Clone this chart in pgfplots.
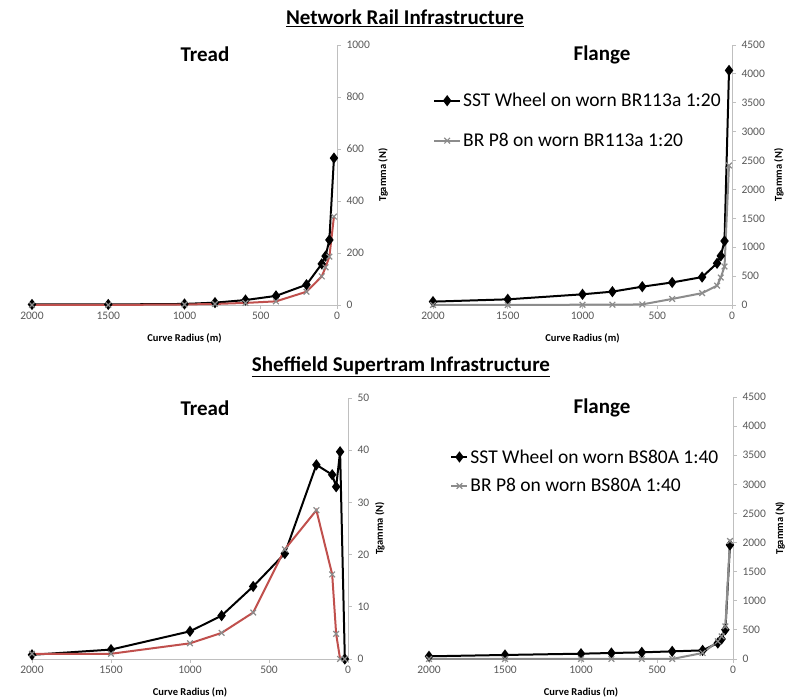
\documentclass[border=0pt]{standalone}
\usepackage{pgfplots}
\pgfplotsset{compat=1.18}
\usepackage{fontspec}
\setmainfont{Carlito}
\definecolor{axgray}{HTML}{BFBFBF}
\definecolor{tickgray}{HTML}{595959}
\definecolor{redl}{HTML}{C0504D}
\definecolor{grayl}{HTML}{8C8C8C}
\pgfplotsset{
 panel/.style={
  scale only axis, x dir=reverse, xmin=0, xmax=2000, ymin=0,
  axis x line=bottom, axis y line=right, axis line style={axgray, line width=0.8pt, -},
  hide obscured x ticks=false, hide obscured y ticks=false,
  xtick={0,500,1000,1500,2000}, tick align=outside, major tick length=4pt,
  tick style={axgray, line width=0.8pt},
  every tick label/.append style={font=\fontsize{11.5}{12}\selectfont, text=tickgray},
  yticklabel style={anchor=west, xshift=2pt},
  /pgf/number format/assume math mode=true,
  /pgf/number format/set thousands separator={},
  xlabel={Curve Radius (m)}, ylabel={Tgamma (N)},
  every axis x label/.style={at={(axis description cs:0.5,0)}, yshift=-33pt, anchor=center, font=\bfseries\fontsize{10.5}{12}\selectfont},
  clip=false,
  legend image code/.code={\draw[mark repeat=2,mark phase=2] plot coordinates {(0pt,0pt) (13pt,0pt) (26pt,0pt)};},
 },
 ylab/.style={every axis y label/.style={at={(axis description cs:#1,0.5)}, rotate=90, anchor=center, font=\bfseries\fontsize{10.5}{12}\selectfont}},
 blk/.style={black, line width=2pt, mark=diamond*, mark size=4pt, mark options={solid, fill=black}},
 sec/.style={line width=2pt, mark=x, mark size=4pt, mark options={grayl, line width=1.2pt}},
}
\begin{document}
\begin{tikzpicture}[x=1pt,y=1pt]
\useasboundingbox (0,0) rectangle (796,700);
\node[font=\bfseries\fontsize{21}{23}\selectfont] at (405,682) {\underline{Network Rail Infrastructure}};
\node[font=\bfseries\fontsize{21}{23}\selectfont] at (401,333) {\underline{Sheffield Supertram Infrastructure}};
\node[font=\bfseries\fontsize{21}{23}\selectfont] at (205,646) {Tread};
\node[font=\bfseries\fontsize{21}{23}\selectfont] at (602,645) {Flange};
\node[font=\bfseries\fontsize{21}{23}\selectfont] at (205,292) {Tread};
\node[font=\bfseries\fontsize{21}{23}\selectfont] at (602,292) {Flange};

% top-left
\begin{axis}[panel, at={(32pt,395pt)}, anchor=south west, width=305pt, height=260pt,
  ymax=1000, ytick={0,200,...,1000}, ylab=1.151]
\addplot[blk] coordinates {(2000,2)(1500,2)(1000,4)(800,9)(600,19)(400,35)(200,78)(100,158)(75,188)(50,250)(20,565)};
\addplot[sec, redl] coordinates {(2000,0)(1500,0)(1000,2)(800,4)(600,8)(400,14)(200,51)(100,110)(75,145)(50,186)(20,340)};
\end{axis}

% top-right
\begin{axis}[panel, at={(433pt,395pt)}, anchor=south west, width=299pt, height=260pt,
  ymax=4500, ytick={0,500,...,4500}, ylab=1.157,
  legend style={draw=none, fill=none, font=\fontsize{19.5}{22}\selectfont, at={(axis description cs:0,0.823)}, anchor=north west, inner sep=0pt, row sep=21pt},
  legend cell align=left]
\addplot[blk] coordinates {(2000,58)(1500,98)(1000,185)(800,231)(600,317)(400,390)(200,483)(100,722)(75,850)(50,1108)(20,4060)};
\addplot[sec, grayl] coordinates {(2000,0)(1500,0)(1000,5)(800,5)(600,10)(400,105)(200,205)(100,335)(75,475)(50,665)(20,2415)};
\legend{SST Wheel on worn BR113a 1:20, BR P8 on worn BR113a 1:20}
\end{axis}

% bottom-left
\begin{axis}[panel, at={(32pt,41pt)}, anchor=south west, width=316pt, height=261pt,
  ymax=50, ytick={0,10,...,50}, ylab=1.101]
\addplot[blk] coordinates {(2000,0.8)(1500,1.8)(1000,5.3)(800,8.3)(600,13.9)(400,20.2)(200,37.2)(100,35.3)(75,33)(50,39.7)(20,0)};
\addplot[sec, redl] coordinates {(2000,1.0)(1500,1.0)(1000,3.0)(800,5.0)(600,8.9)(400,21)(200,28.5)(100,16.2)(75,4.8)(50,0)(20,0)};
\end{axis}

% bottom-right
\begin{axis}[panel, at={(429pt,41pt)}, anchor=south west, width=304pt, height=262pt,
  ymax=4500, ytick={0,500,...,4500}, ylab=1.155,
  legend image code/.code={\draw[mark repeat=2,mark phase=2] plot coordinates {(0pt,0pt) (8pt,0pt) (16pt,0pt)};},
  legend style={draw=none, fill=none, font=\fontsize{19.5}{22}\selectfont, at={(axis description cs:0.07,0.808)}, anchor=north west, inner sep=0pt, row sep=10pt},
  legend cell align=left]
\addplot[blk] coordinates {(2000,46)(1500,69)(1000,91)(800,103)(600,114)(400,131)(200,148)(100,274)(75,343)(50,503)(20,1959)};
\addplot[sec, grayl] coordinates {(2000,0)(1500,0)(1000,0)(800,0)(600,0)(400,0)(200,103)(100,303)(75,388)(50,560)(20,2027)};
\legend{SST Wheel on worn BS80A 1:40, BR P8 on worn BS80A 1:40}
\end{axis}
\end{tikzpicture}
\end{document}
